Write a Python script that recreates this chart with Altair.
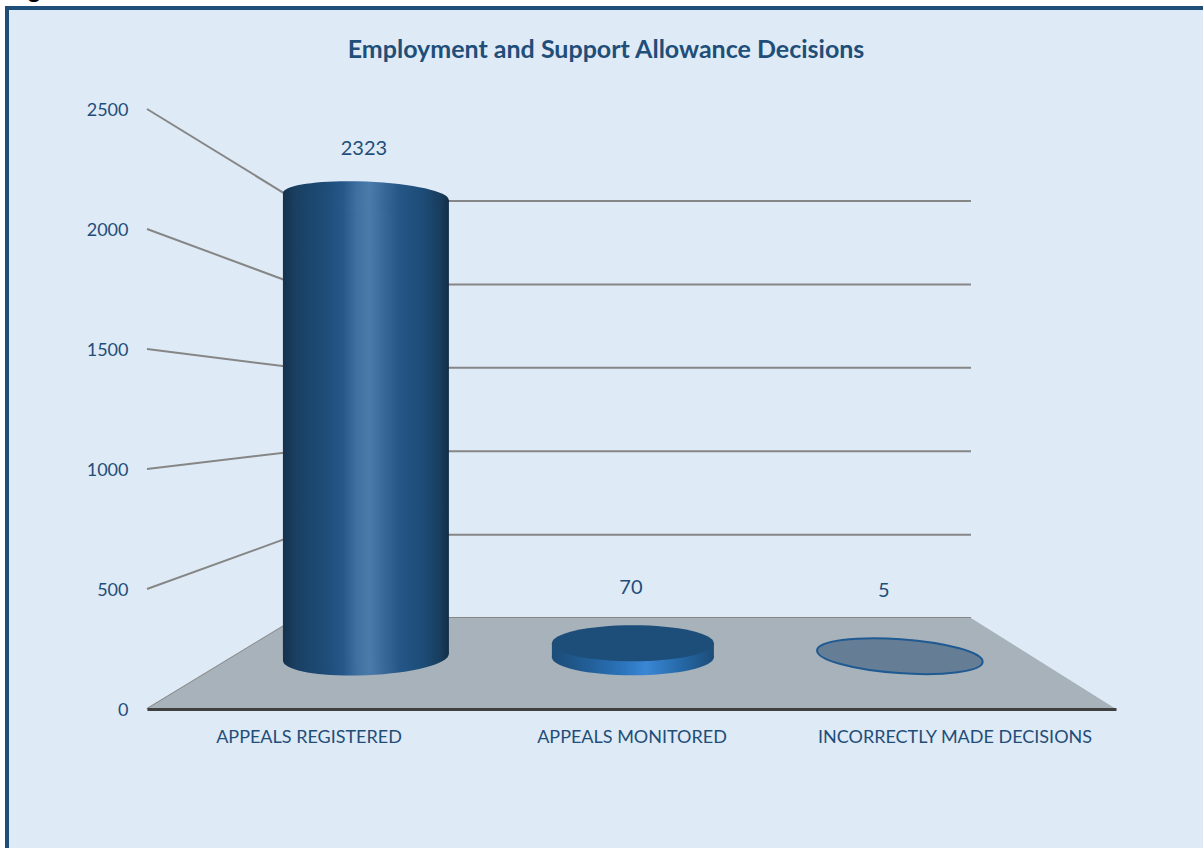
import json

import altair as alt
import pandas as pd

# Chart values
CATEGORIES = ["APPEALS REGISTERED", "APPEALS MONITORED", "INCORRECTLY MADE DECISIONS"]
COUNTS = [2323, 70, 5]
VALUE_TICKS = [0, 500, 1000, 1500, 2000, 2500]

TITLE = "Employment and Support Allowance Decisions"

# Palette
INK = "#1F4E79"
PANEL = "#DEEAF6"
FLOOR = "#A8B2BA"
WALL_LINE = "#868686"
BASE_LINE = "#404040"
FONT = "Lato"

# Plot box, in pixels
PLOT_W, PLOT_H = 969, 600
PX_PER_X = PLOT_W / 3
PX_PER_Y = PLOT_H / 2500

# Pseudo-3D projection: a point at depth d (0 = front edge, 1 = back wall) is
# pulled inwards horizontally, shrunk vertically and lifted up the value scale.
BACK_LEFT, BACK_RIGHT = 0.464, 2.551
SHRINK = 0.305
LIFT = 379
BAR_DEPTH = 0.57


def project_x(c, d):
    left = BACK_LEFT * d
    right = 3 - (3 - BACK_RIGHT) * d
    return left + c / 3 * (right - left)


def project_y(v, d):
    return v * (1 - SHRINK * d) + LIFT * d


def to_x(px):
    """Page pixel column expressed on the x scale."""
    return (px - 147) / PX_PER_X


def to_y(px):
    """Page pixel row expressed on the y scale."""
    return (709 - px) / PX_PER_Y


X_SCALE = alt.Scale(domain=[0, 3], nice=False, zero=False)
Y_SCALE = alt.Scale(domain=[0, 2500], nice=False, zero=False)

X_AXIS = alt.Axis(
    values=[0.5, 1.5, 2.5],
    labelExpr=f"{json.dumps(CATEGORIES)}[floor(datum.value)]",
    labelColor=INK, labelFont=FONT, labelFontSize=18, labelPadding=19, labelLimit=0,
    labelOverlap=False, labelFlush=False, labelBound=False,
    ticks=False, grid=False, domainColor=BASE_LINE, domainWidth=3, zindex=1,
)
Y_AXIS = alt.Axis(
    values=VALUE_TICKS, format="d",
    labelColor=INK, labelFont=FONT, labelFontSize=18, labelPadding=19, labelOffset=1,
    labelOverlap=False, labelFlush=False, labelBound=False,
    ticks=False, grid=False, domain=False, zindex=1,
)


def X(field="x"):
    return alt.X(f"{field}:Q", scale=X_SCALE, axis=X_AXIS, title=None)


def Y(field="y"):
    return alt.Y(f"{field}:Q", scale=Y_SCALE, axis=Y_AXIS, title=None)


def linear(stops):
    return alt.Gradient(
        gradient="linear",
        x1=0, x2=1, y1=0, y2=0,
        stops=[alt.GradientStop(offset=o, color=c) for o, c in stops],
    )


def ellipse(x, y, rx, ry, fill, stroke=None, stroke_width=0, angle=0):
    """Filled ellipse at a data position, rx and ry given in pixels."""
    k = ry / rx
    path = f"M-1,0A1,{k:.4f} 0 1,1 1,0A1,{k:.4f} 0 1,1 -1,0Z"
    kwargs = {"stroke": stroke, "strokeWidth": stroke_width} if stroke else {"strokeWidth": 0}
    return (
        alt.Chart(pd.DataFrame({"x": [x], "y": [y]}))
        .mark_point(shape=path, size=(2 * rx) ** 2, filled=True, fill=fill,
                    opacity=1, angle=angle, **kwargs)
        .encode(x=X(), y=Y())
    )


def body(x, y0, y1, rx, fill, slope=0.0):
    """Cylinder wall; slope (pixels) tips its end edges the way the caps are tilted."""
    half = rx / PX_PER_X
    tip = slope / PX_PER_Y
    frame = pd.DataFrame({
        "x": [x - half, x + half],
        "y": [y1 + tip, y1 - tip],
        "y2": [y0 - tip, y0 + tip],
    })
    return (
        alt.Chart(frame)
        .mark_area(orient="vertical", fill=fill, strokeWidth=0, opacity=1)
        .encode(x=X(), y=Y(), y2="y2:Q")
    )


# Panel with its border; the right and bottom sides run past the page edge
panel_df = pd.DataFrame({
    "x": [to_x(7)], "x2": [to_x(1215)],
    "y": [to_y(8)], "y2": [to_y(860)],
})
panel = (
    alt.Chart(panel_df)
    .mark_rect(fill=PANEL, stroke=INK, strokeWidth=4)
    .encode(x=X(), x2="x2:Q", y=Y(), y2="y2:Q")
)

# Section heading above the panel, mostly cut off by the top edge
heading = (
    alt.Chart(pd.DataFrame({"x": [to_x(8)], "y": [to_y(-2)], "t": ["Figure"]}))
    .mark_text(align="left", baseline="alphabetic", font=FONT, fontSize=24,
               fontWeight="bold", color="#000000")
    .encode(x=X(), y=Y(), text="t:N")
)

# Chart title
title = (
    alt.Chart(pd.DataFrame({"x": [to_x(606)], "y": [to_y(50)], "t": [TITLE]}))
    .mark_text(font=FONT, fontSize=25, fontWeight="bold", color=INK, baseline="middle")
    .encode(x=X(), y=Y(), text="t:N")
)

# Floor of the box
floor_df = pd.DataFrame({
    "x": [0, BACK_LEFT, BACK_RIGHT, 3],
    "y": [0, project_y(0, 1), project_y(0, 1), 0],
    "y2": [0, 0, 0, 0],
})
floor = (
    alt.Chart(floor_df)
    .mark_area(orient="vertical", fill=FLOOR, strokeWidth=0, opacity=1)
    .encode(x=X(), y=Y(), y2="y2:Q")
)

# Side wall and back wall gridlines
segments = []
for v in VALUE_TICKS:
    segments.append({"x": 0, "x2": BACK_LEFT, "y": v, "y2": project_y(v, 1)})
    segments.append({"x": BACK_LEFT, "x2": BACK_RIGHT,
                     "y": project_y(v, 1), "y2": project_y(v, 1)})
walls = (
    alt.Chart(pd.DataFrame(segments))
    .mark_rule(color=WALL_LINE, strokeWidth=2)
    .encode(x=X(), x2="x2:Q", y=Y(), y2="y2:Q")
)

tube = linear([
    (0, "#15314D"), (0.08, "#1A4063"), (0.25, "#1D4C77"), (0.36, "#26578A"),
    (0.45, "#3F71A2"), (0.52, "#4A7BAA"), (0.6, "#3A6A99"), (0.7, "#245687"),
    (0.85, "#1C4B76"), (0.95, "#183C5C"), (1, "#132D47"),
])
disc_side = linear([
    (0, "#1C4C78"), (0.2, "#215C94"), (0.42, "#2A72B8"), (0.58, "#3A87D6"),
    (0.8, "#2568A6"), (1, "#1C4C78"),
])

x1, x2, x3 = (project_x(i + 0.5, BAR_DEPTH) for i in range(3))
base = project_y(0, BAR_DEPTH)
top1, top2, top3 = (project_y(v, BAR_DEPTH) for v in COUNTS)

bars = [
    ellipse(x1, base, 83, 18, tube, angle=357.6),
    body(x1, base, top1, 83, tube, slope=3.5),
    ellipse(x1, top1, 83, 15, tube, angle=2.4),
    ellipse(x2, base, 81, 18, disc_side),
    body(x2, base, top2, 81, disc_side),
    ellipse(x2, top2, 81, 18, "#1D4E79"),
    ellipse(x3, top3, 83, 17, "#657D95", stroke="#1F5A92", stroke_width=2, angle=4),
]


def value_label(x, y, count, dx, dy):
    return (
        alt.Chart(pd.DataFrame({"x": [x], "y": [y], "count": [count]}))
        .mark_text(font=FONT, fontSize=20, color=INK, dx=dx, dy=dy)
        .encode(x=X(), y=Y(), text="count:Q")
    )


labels = [
    value_label(x1, top1, COUNTS[0], -2, -48),
    value_label(x2, top2, COUNTS[1], -2, -55),
    value_label(x3, top3, COUNTS[2], -16, -65),
]

chart = (
    alt.layer(panel, heading, title, walls, floor, *bars, *labels)
    .properties(
        width=PLOT_W,
        height=PLOT_H,
        padding={"left": 147, "top": 109, "right": 87, "bottom": 139},
        autosize=alt.AutoSizeParams(type="none"),
        background="#FFFFFF",
    )
    .configure_view(strokeWidth=0)
)

chart.save("out.html", embed_options={"renderer": "svg", "actions": False})
